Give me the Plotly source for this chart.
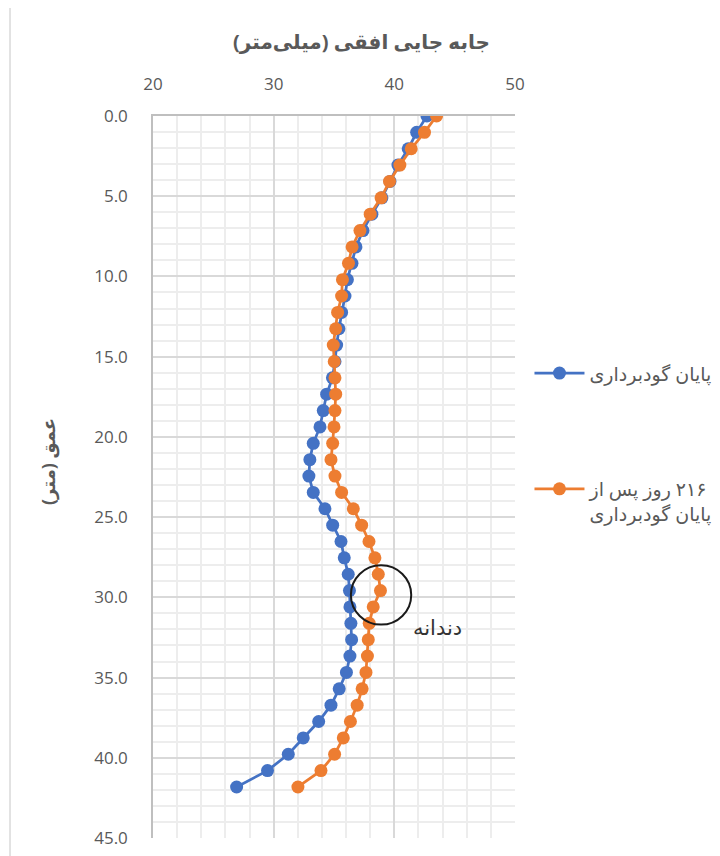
import plotly.graph_objects as go

# Depth of each measurement point (m)
depth = [0.0, 1.02, 2.04, 3.06, 4.08, 5.1, 6.12, 7.14, 8.16, 9.18, 10.2, 11.22, 12.24, 13.26,
         14.28, 15.3, 16.32, 17.34, 18.36, 19.38, 20.4, 21.42, 22.44, 23.46, 24.48, 25.5,
         26.52, 27.54, 28.56, 29.58, 30.6, 31.62, 32.64, 33.66, 34.68, 35.7, 36.72, 37.74,
         38.76, 39.78, 40.8, 41.82]

# Horizontal displacement at end of excavation (mm)
disp_end = [42.7, 41.85, 41.15, 40.3, 39.64, 38.97, 38.14, 37.4, 36.82, 36.49, 36.11, 35.91,
            35.63, 35.41, 35.22, 35.08, 34.87, 34.39, 34.11, 33.84, 33.28, 33.0, 32.92, 33.28,
            34.25, 34.89, 35.58, 35.85, 36.18, 36.28, 36.32, 36.4, 36.46, 36.32, 36.03, 35.43,
            34.75, 33.73, 32.45, 31.21, 29.49, 26.93]

# Horizontal displacement 216 days after end of excavation (mm)
disp_216 = [43.5, 42.5, 41.4, 40.46, 39.6, 38.9, 38.0, 37.15, 36.5, 36.2, 35.7, 35.63, 35.3,
            35.14, 34.94, 35.02, 35.08, 35.14, 35.08, 35.0, 34.89, 34.75, 35.08, 35.63, 36.6,
            37.29, 37.9, 38.39, 38.67, 38.85, 38.25, 37.92, 37.84, 37.77, 37.65, 37.33, 36.92,
            36.36, 35.77, 35.05, 33.92, 32.01]

series_names = ["\u200fپایان گودبرداری", "\u200f۲۱۶ روز پس از<br>\u200fپایان گودبرداری"]
x_title = "\u200fجابه جایی افقی (میلی\u200cمتر)\u200f"
y_title = "\u200fعمق (متر)\u200f"
note_text = "دندانه"

FONT = "Open Sans, DejaVu Sans, sans-serif"
GREY = "#595959"

fig = go.Figure()
fig.add_trace(go.Scatter(
    x=disp_end, y=depth, mode="lines+markers", name=series_names[0], legendgroup="a",
    line=dict(color="#4472C4", width=2.75), marker=dict(color="#4472C4", size=13)))
fig.add_trace(go.Scatter(
    x=disp_216, y=depth, mode="lines+markers", name=series_names[1], legendgroup="b",
    line=dict(color="#ED7D31", width=2.75), marker=dict(color="#ED7D31", size=13)))

# Circle highlighting the "tooth"
fig.add_shape(type="circle", xref="x", yref="y", x0=36.4, x1=41.4, y0=28.0, y1=31.7,
              line=dict(color="#1a1a1a", width=2))
fig.add_annotation(x=43.55, y=31.85, xref="x", yref="y", text=note_text, showarrow=False,
                   font=dict(family=FONT, size=21, color="#333333"))
# Axis titles
fig.add_annotation(x=0.575, y=1.1025, xref="paper", yref="paper", text=x_title,
                   showarrow=False, xanchor="center", yanchor="middle",
                   font=dict(family=FONT, size=20, color=GREY, weight="bold"))
fig.add_annotation(x=-0.29, y=0.5208, xref="paper", yref="paper", text=y_title,
                   showarrow=False, xanchor="center", yanchor="middle", textangle=-90,
                   font=dict(family=FONT, size=18, color=GREY, weight="bold"))
# Chart border at left edge
fig.add_shape(type="line", xref="paper", yref="paper", x0=-0.395, x1=-0.395, y0=-0.03, y1=1.17,
              line=dict(color="#D9D9D9", width=1.5), layer="below")

fig.update_layout(
    width=712, height=848,
    margin=dict(l=145, r=205, t=108, b=18, autoexpand=False),
    paper_bgcolor="white", plot_bgcolor="white",
    font=dict(family=FONT, color=GREY, size=16),
    showlegend=True,
    legend=dict(x=1.04, xanchor="left", y=0.67, yanchor="top", valign="top",
                itemwidth=50, tracegroupgap=88,
                font=dict(family=FONT, size=19, color=GREY),
                bgcolor="rgba(0,0,0,0)"),
    xaxis=dict(
        side="top", range=[20, 50], dtick=10, tickformat="d",
        showgrid=True, gridcolor="#D9D9D9", gridwidth=1.5,
        minor=dict(dtick=2, showgrid=True, gridcolor="#EDEDED", gridwidth=1.5),
        showline=True, linecolor="#BFBFBF", linewidth=1.5,
        ticks="", ticklabelstandoff=17, zeroline=False,
        tickfont=dict(family=FONT, size=17, color=GREY),
        automargin=False),
    yaxis=dict(
        range=[45, 0], dtick=5, tickformat=".1f",
        showgrid=True, gridcolor="#D9D9D9", gridwidth=1.5,
        minor=dict(dtick=1, showgrid=True, gridcolor="#EDEDED", gridwidth=1.5),
        showline=True, linecolor="#BFBFBF", linewidth=1.5,
        ticks="", ticklabelstandoff=20, zeroline=False,
        tickfont=dict(family=FONT, size=17, color=GREY),
        automargin=False),
)

fig.write_html("out.html")
